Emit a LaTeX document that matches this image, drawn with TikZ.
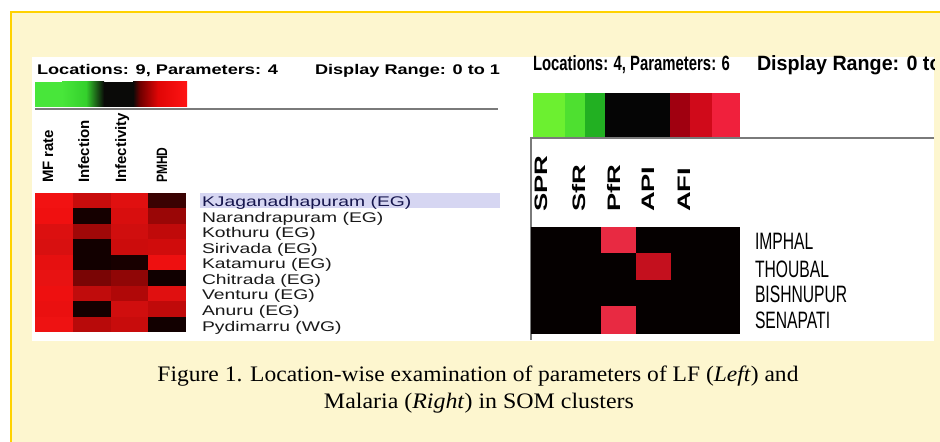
\documentclass[tikz,border=0pt]{standalone}
\usepackage{fontspec}
\usepackage{graphicx}
\setmainfont{Liberation Serif}
\setsansfont{Liberation Sans}
\newcommand\wfit[2]{\resizebox{#1}{\height}{#2}}
\newcommand\xs[2]{\scalebox{#1}[1]{#2}}
\newcommand\ys[2]{\scalebox{1}[#1]{#2}}
\definecolor{cream}{HTML}{FDF6CF}
\definecolor{gold}{HTML}{FFD200}
\definecolor{rule}{HTML}{7A7A7A}
\definecolor{hilite}{HTML}{D6D6F2}
\definecolor{navy}{HTML}{16164E}
% left scale bar
\definecolor{lg1}{HTML}{48E63A}
\definecolor{lg2}{HTML}{34D02C}
\definecolor{lk}{HTML}{0A0A08}
\definecolor{lr1}{HTML}{700000}
\definecolor{lr2}{HTML}{E00606}
\definecolor{lr3}{HTML}{FF1414}
% right scale bar
\definecolor{rg1}{HTML}{6CF030}
\definecolor{rg2}{HTML}{4EE030}
\definecolor{rg3}{HTML}{22B022}
\definecolor{rk}{HTML}{050505}
\definecolor{rr1}{HTML}{A00010}
\definecolor{rr2}{HTML}{D00A1A}
\definecolor{rr3}{HTML}{F0203C}
% right heat map cells
\definecolor{hk}{HTML}{050000}
\definecolor{hpink}{HTML}{E82A42}
\definecolor{hred}{HTML}{C4101E}
\begin{document}
\begin{tikzpicture}[x=0.75pt,y=-0.75pt,
  txt/.style={inner sep=0pt, outer sep=0pt, font=\sffamily},
  hdr/.style={txt, font=\sffamily\bfseries\fontsize{10.5pt}{12pt}\selectfont},
  hdrR/.style={txt, font=\sffamily\bfseries\fontsize{15.5pt}{18pt}\selectfont},
  collbl/.style={txt, rotate=90, anchor=base west, font=\sffamily\bfseries\fontsize{11.25pt}{13pt}\selectfont},
  collblR/.style={txt, rotate=90, anchor=base west, font=\sffamily\bfseries\fontsize{20.5pt}{22pt}\selectfont},
  loclbl/.style={txt, anchor=base west, font=\sffamily\fontsize{10.5pt}{12pt}\selectfont, text=black!90},
  rowlbl/.style={txt, anchor=base west, font=\sffamily\fontsize{17.8pt}{20pt}\selectfont},
  figcap/.style={txt, anchor=base, font=\rmfamily\fontsize{16.6pt}{20pt}\selectfont}]

\clip (0,0) rectangle (940,442);
\fill[white] (0,0) rectangle (940,442);
% framed figure box
\filldraw[fill=cream, draw=gold, line width=1.2pt] (11,12) rectangle (960,460);
% white panel holding both heat maps
\fill[white] (32,57) rectangle (934,341);

% ---------------- left panel: LF ----------------
\node[hdr, anchor=base west] (lt1) at (37,75) {\wfit{180.75pt}{Locations: 9, Parameters: 4}};
\node[hdr, anchor=base west] (lt2) at (315,75) {\wfit{138.75pt}{Display Range: 0 to 1}};

% colour scale
\fill[lg1] (35,82) rectangle (62,107);
\shade[left color=lg1, right color=lg2] (62,82) rectangle (86,107);
\shade[left color=lg2, right color=lk] (86,82) rectangle (104,107);
\fill[lk] (104,82) rectangle (133,107);
\shade[left color=lk, right color=lr1] (133,82) rectangle (140,107);
\shade[left color=lr1, right color=lr2] (140,82) rectangle (158,107);
\shade[left color=lr2, right color=lr3] (158,82) rectangle (187,107);
\draw[rule, line width=0.9pt] (35,109) -- (498,109);

% parameter names
\node[collbl] (lc1) at (53,183) {MF rate};
\node[collbl] (lc2) at (89,183) {Infection};
\node[collbl] (lc3) at (126,183) {Infectivity};
\node[collbl] (lc4) at (167,183) {\xs{0.8}{PMHD}};

% heat map: one column of nine cells per parameter
\foreach \col/\cells in {
  0/{F21212,F01010,DC1010,D81010,E61010,E81212,EE1010,EA1010,EE1212},
  1/{C80C0C,150000,A00808,120000,120000,7A0505,C00C0C,140000,B80A0A},
  2/{E01010,D80E0E,D00E0E,CC0C0C,180000,900606,B00808,D00E0E,C80C0C},
  3/{3A0202,9A0606,C00A0A,D00C0C,EE1010,100000,E01010,C00A0A,120000}}{
  \foreach \c [count=\r from 0] in \cells {
    \definecolor{cellc}{HTML}{\c}
    \fill[cellc] (35+37.75*\col,193+15.5*\r) rectangle ++(37.75,15.5);
  }
}

% selected row highlight
\fill[hilite] (200,193) rectangle (500,208);
\node[loclbl, text=navy] (loc0) at (202,207) {\xs{1.38}{KJaganadhapuram (EG)}};
\foreach \t [count=\i] in {Narandrapuram (EG), Kothuru (EG), Sirivada (EG),
  Katamuru (EG), Chitrada (EG), Venturu (EG), Anuru (EG), Pydimarru (WG)}{
  \node[loclbl] (loc\i) at (202,207+15.5*\i) {\xs{1.38}{\t}};
}

% ---------------- right panel: malaria ----------------
\begin{scope}
\clip (528,50) rectangle (934,341);
\node[hdrR, anchor=base west] (rt1) at (533,71) {\wfit{147.75pt}{Locations: 4, Parameters: 6}};
\node[hdrR, anchor=base west] (rt2) at (757,71) {\wfit{150.75pt}{Display Range: 0 to 1}};
\end{scope}

% colour scale
\fill[rg1] (533,93) rectangle (565,137);
\fill[rg2] (565,93) rectangle (585,137);
\fill[rg3] (585,93) rectangle (605,137);
\fill[rk] (605,93) rectangle (670,137);
\fill[rr1] (670,93) rectangle (690,137);
\fill[rr2] (690,93) rectangle (712,137);
\fill[rr3] (712,93) rectangle (740,137);

% frame of the heat map area
\draw[rule, line width=0.9pt] (934,138) -- (531,138) -- (531,340);

% parameter names
\node[collblR] (rc1) at (547,212) {\ys{0.66}{SPR}};
\node[collblR] (rc2) at (585,212) {\ys{0.66}{SfR}};
\node[collblR] (rc3) at (620,212) {\ys{0.66}{PfR}};
\node[collblR] (rc4) at (654,212) {\ys{0.66}{API}};
\node[collblR] (rc5) at (690,212) {\ys{0.66}{AFI}};

% heat map
\fill[hk] (531,227) rectangle (740,334);
\fill[hpink] (601,227) rectangle (636,253.5);
\fill[hred] (636,253.5) rectangle (670.5,280);
\fill[hpink] (601,306.5) rectangle (636,334);

\node[rowlbl] (rr1) at (755,250) {\xs{0.66}{IMPHAL}};
\node[rowlbl] (rr2) at (755,277) {\xs{0.66}{THOUBAL}};
\node[rowlbl] (rr3) at (755,303) {\xs{0.66}{BISHNUPUR}};
\node[rowlbl] (rr4) at (755,329) {\xs{0.66}{SENAPATI}};

% ---------------- caption ----------------
\node[figcap] (cap1) at (478,381) {\wfit{480.75pt}{Figure 1. Location-wise examination of parameters of LF (\textit{Left}) and}};
\node[figcap] (cap2) at (479,409) {\wfit{232.5pt}{Malaria (\textit{Right}) in SOM clusters}};
\end{tikzpicture}
\end{document}
